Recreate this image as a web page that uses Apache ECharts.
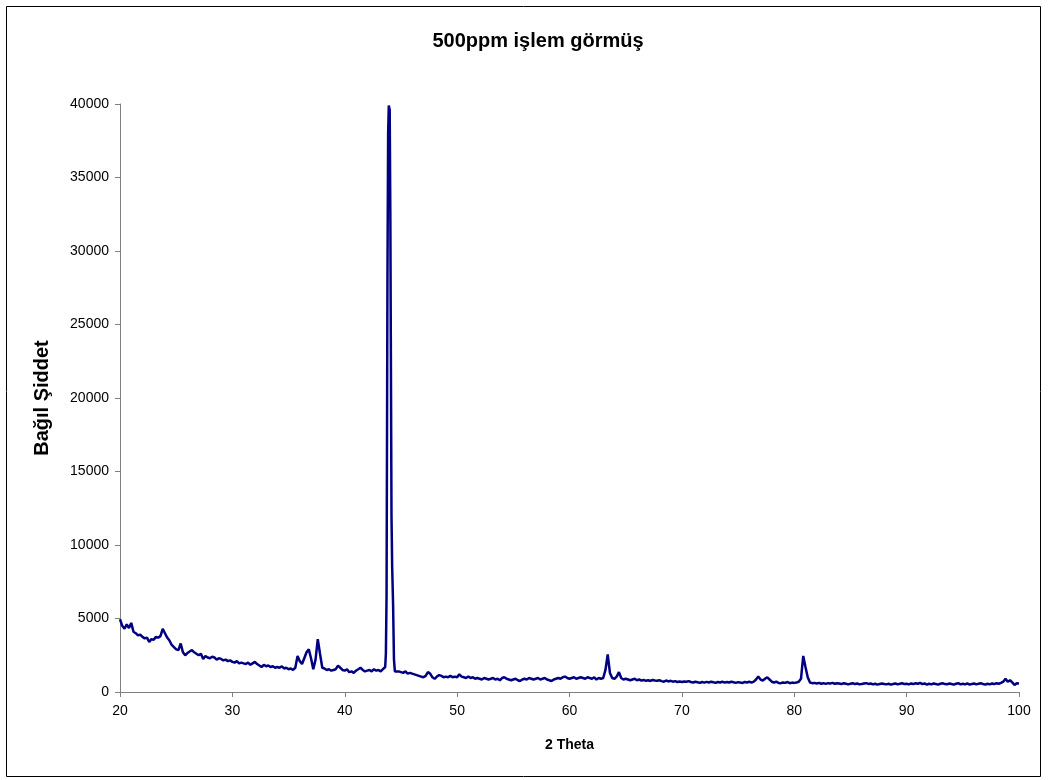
<!doctype html>
<html>
    <head>
        <meta charset="utf-8">
        <style>
            html, body { margin: 0; padding: 0; background: #fff; }
            #main { width: 1048px; height: 780px; }
        </style>
    </head>
    <body>
        <div id="main"></div>
        <script src="https://cdn.jsdelivr.net/npm/echarts@6/dist/echarts.min.js"></script>
        <script>
            // scan on a 0.2 degree grid from 20 to 100 (2 theta)
            var scanStart = 20;
            var scanStep = 0.2;
            var counts = [
                4950, 4500, 4300, 4600, 4350,   // 20
                4700, 4100, 4000, 3850, 3900,   // 21
                3750, 3650, 3700, 3400, 3600,   // 22
                3550, 3750, 3700, 3800, 4300,   // 23
                4000, 3700, 3500, 3200, 3050,   // 24
                2900, 2850, 3300, 2700, 2500,   // 25
                2650, 2750, 2850, 2700, 2600,   // 26
                2500, 2600, 2250, 2450, 2350,   // 27
                2300, 2400, 2350, 2200, 2300,   // 28
                2250, 2150, 2200, 2100, 2150,   // 29
                2050, 2000, 2100, 1950, 2000,   // 30
                1950, 1900, 2000, 1850, 1950,   // 31
                2050, 1900, 1800, 1700, 1850,   // 32
                1750, 1800, 1700, 1750, 1650,   // 33
                1700, 1650, 1750, 1600, 1650,   // 34
                1550, 1600, 1500, 1650, 2450,   // 35
                2100, 1900, 2300, 2700, 2900,   // 36
                2300, 1550, 2200, 3600, 2600,   // 37
                1650, 1600, 1500, 1550, 1450,   // 38
                1500, 1550, 1800, 1650, 1500,   // 39
                1450, 1550, 1350, 1400, 1300,   // 40
                1450, 1550, 1650, 1500, 1400,   // 41
                1450, 1500, 1400, 1550, 1450,   // 42
                1500, 1400, 1550, 1700, 28000,  // 43
                39600, 12000, 2200, 1350, 1400, // 44
                1350, 1300, 1400, 1250, 1300,   // 45
                1250, 1200, 1150, 1100, 1050,   // 46
                1000, 1100, 1350, 1250, 1000,   // 47
                900, 1050, 1150, 1100, 1000,    // 48
                1050, 1000, 1100, 1000, 1050,   // 49
                1000, 1200, 1050, 1000, 950,    // 50
                1050, 950, 1000, 900, 950,      // 51
                900, 850, 950, 900, 850,        // 52
                900, 950, 850, 900, 800,        // 53
                950, 1000, 900, 850, 800,       // 54
                850, 900, 800, 750, 850,        // 55
                900, 850, 950, 900, 850,        // 56
                900, 950, 850, 900, 950,        // 57
                850, 800, 750, 850, 900,        // 58
                950, 900, 1000, 1050, 950,      // 59
                900, 950, 1000, 900, 950,       // 60
                1000, 950, 900, 1000, 950,      // 61
                900, 1000, 850, 950, 900,       // 62
                950, 1500, 2550, 1300, 950,     // 63
                900, 1050, 1350, 950, 850,      // 64
                900, 850, 800, 850, 900,        // 65
                800, 850, 780, 820, 760,        // 66
                800, 750, 820, 780, 760,        // 67
                800, 740, 700, 780, 720,        // 68
                760, 700, 740, 680, 720,        // 69
                680, 720, 700, 740, 680,        // 70
                650, 700, 660, 620, 680,        // 71
                640, 690, 650, 700, 660,        // 72
                620, 680, 650, 700, 640,        // 73
                680, 650, 700, 660, 620,        // 74
                670, 640, 620, 680, 650,        // 75
                700, 640, 700, 850, 1050,       // 76
                850, 780, 900, 1000, 850,       // 77
                700, 650, 700, 620, 600,        // 78
                650, 620, 680, 600, 640,        // 79
                620, 650, 700, 900, 2450,       // 80
                1700, 1000, 650, 600, 620,      // 81
                580, 620, 560, 600, 550,        // 82
                600, 580, 620, 560, 600,        // 83
                580, 540, 600, 560, 520,        // 84
                560, 600, 540, 580, 520,        // 85
                540, 580, 600, 550, 580,        // 86
                520, 560, 500, 540, 580,        // 87
                550, 520, 560, 500, 540,        // 88
                580, 520, 560, 600, 540,        // 89
                560, 520, 580, 540, 600,        // 90
                560, 620, 540, 580, 500,        // 91
                560, 520, 580, 540, 500,        // 92
                560, 600, 540, 520, 580,        // 93
                540, 500, 560, 600, 520,        // 94
                560, 520, 580, 500, 540,        // 95
                580, 520, 560, 600, 540,        // 96
                500, 560, 520, 580, 540,        // 97
                600, 560, 620, 700, 900,        // 98
                700, 800, 650, 480, 600,        // 99
                580                             // 100
            ];

            // finer points over the main peak near 44 degrees
            var peakTheta = [43.6, 43.66, 43.72, 43.76, 43.8, 43.86, 43.92, 44.0, 44.06, 44.1, 44.16, 44.22, 44.3, 44.38, 44.46];
            var peakCounts = [1700, 2600, 6500, 17000, 28000, 38000, 39900, 39600, 32000, 24000, 12000, 8500, 6000, 2200, 1400];

            var xTicks = [20, 30, 40, 50, 60, 70, 80, 90, 100];
            var yTicks = [0, 5000, 10000, 15000, 20000, 25000, 30000, 35000, 40000];

            var points = [];
            counts.forEach(function (c, i) {
                var t = +(scanStart + i * scanStep).toFixed(2);
                if (t >= peakTheta[0] - 0.01 && t <= peakTheta[peakTheta.length - 1] + 0.01) return;
                points.push([t, c]);
            });
            peakTheta.forEach(function (t, i) {
                points.push([t, peakCounts[i]]);
            });
            points.sort(function (a, b) { return a[0] - b[0]; });

            var chart = echarts.init(document.getElementById('main'));

            var font = 'Liberation Sans, Arial, sans-serif';
            var labelFont = {
                fontFamily: font,
                fontSize: 14,
                color: '#000'
            };

            chart.setOption({
                backgroundColor: '#fff',
                animation: false,
                title: {
                    text: '500ppm işlem görmüş',
                    left: 533,
                    top: 26,
                    textAlign: 'center',
                    textStyle: {
                        fontFamily: font,
                        fontSize: 20,
                        fontWeight: 'bold',
                        color: '#000'
                    }
                },
                graphic: [{
                    type: 'rect',
                    shape: { x: 6.5, y: 6.5, width: 1034, height: 770 },
                    style: { fill: 'none', stroke: '#000', lineWidth: 1 },
                    silent: true
                }],
                grid: {
                    left: 120,
                    right: 29,
                    top: 104,
                    bottom: 88
                },
                xAxis: {
                    type: 'value',
                    min: xTicks[0],
                    max: xTicks[xTicks.length - 1],
                    interval: 10,
                    name: '2 Theta',
                    nameLocation: 'middle',
                    nameGap: 46,
                    nameTextStyle: {
                        fontFamily: font,
                        fontSize: 14,
                        fontWeight: 'bold',
                        color: '#000'
                    },
                    axisLine: { onZero: false, lineStyle: { color: '#808080', width: 1 } },
                    axisTick: { show: true, length: 5, inside: false, lineStyle: { color: '#808080' } },
                    axisLabel: Object.assign({ margin: 12 }, labelFont),
                    splitLine: { show: false }
                },
                yAxis: {
                    type: 'value',
                    min: yTicks[0],
                    max: yTicks[yTicks.length - 1],
                    interval: 5000,
                    name: 'Bağıl Şiddet',
                    nameLocation: 'middle',
                    nameGap: 68,
                    nameTextStyle: {
                        fontFamily: font,
                        fontSize: 20,
                        fontWeight: 'bold',
                        color: '#000'
                    },
                    axisLine: { show: true, lineStyle: { color: '#808080', width: 1 } },
                    axisTick: { show: true, length: 5, inside: false, lineStyle: { color: '#808080' } },
                    axisLabel: Object.assign({
                        margin: 11,
                        formatter: function (v) { return String(v); }
                    }, labelFont),
                    splitLine: { show: false }
                },
                series: [{
                    type: 'line',
                    data: points,
                    showSymbol: false,
                    smooth: false,
                    clip: true,
                    lineStyle: { color: '#000080', width: 2.5 },
                    itemStyle: { color: '#000080' }
                }]
            });

            window.onresize = chart.resize;
        </script>
    </body>
</html>
